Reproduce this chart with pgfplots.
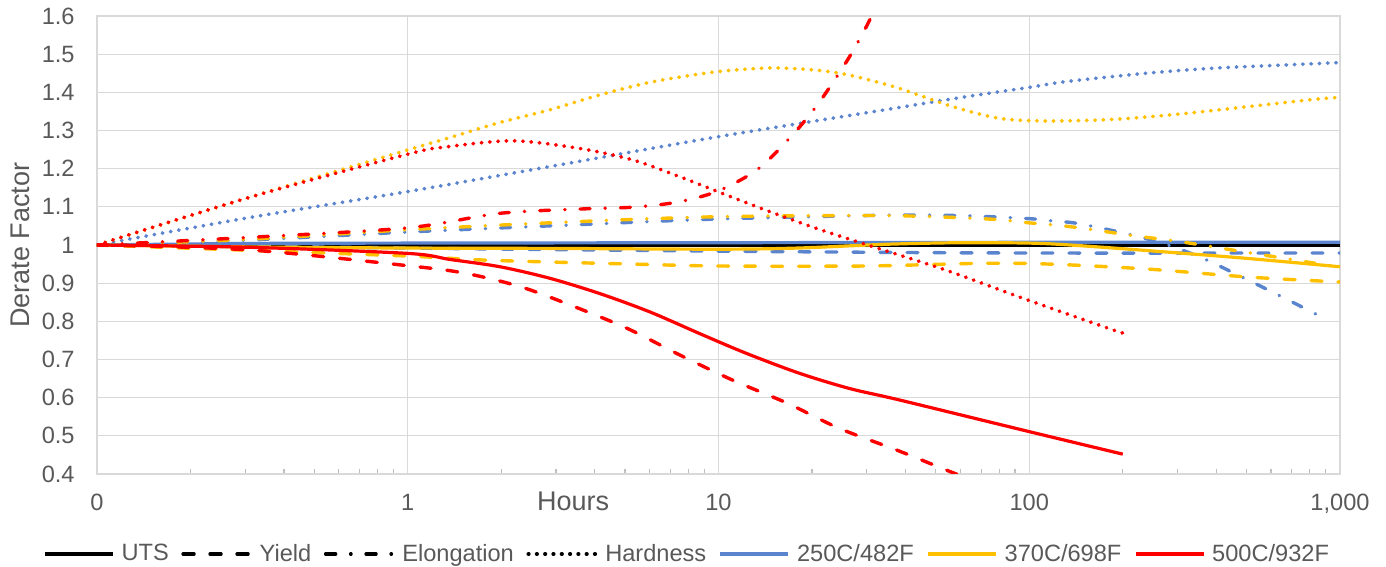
\documentclass[border=0pt]{standalone}
\usepackage{fontspec}
\setmainfont{Liberation Sans}
\usepackage{pgfplots}
\pgfplotsset{compat=1.18}
\definecolor{cblue}{HTML}{5B84CF}
\definecolor{cgold}{HTML}{FFC000}
\definecolor{cred}{HTML}{FF0000}
\definecolor{txt}{HTML}{595959}
\definecolor{grd}{HTML}{D9D9D9}
\definecolor{tck}{HTML}{BFBFBF}
\tikzset{
 solidln/.style={line width=1.6pt, line join=round},
 dashedln/.style={line width=1.7pt, line cap=round, dash pattern=on 5.5pt off 8pt},
 dashdotln/.style={line width=1.7pt, line cap=round, dash pattern=on 5pt off 7.5pt on 0.2pt off 7.5pt},
 dottedln/.style={line width=1.9pt, line cap=round, dash pattern=on 0.2pt off 3.95pt},
}
\begin{document}
\begin{tikzpicture}
\useasboundingbox (-48.5pt,-46.5pt) rectangle (644.5pt,237pt);
\begin{axis}[
 scale only axis, width=621.5pt, height=229pt,
 xmode=log, log basis x=10,
 xmin=0.1, xmax=1000, ymin=0.4, ymax=1.6,
 xtick={0.1,1,10,100,1000}, xticklabels={0,1,10,100,{1,000}},
 minor xtick={0.2,0.3,0.4,0.5,0.6,0.7,0.8,0.9,2,3,4,5,6,7,8,9,20,30,40,50,60,70,80,90,200,300,400,500,600,700,800,900},
 ytick={0.4,0.5,0.6,0.7,0.8,0.9,1,1.1,1.2,1.3,1.4,1.5,1.6},
 grid=major, major grid style={grd, line width=0.6pt},
 axis line style={grd, line width=0.6pt},
 tick pos=left, tick align=inside,
 major tick length=0pt, minor tick length=2.5pt,
 minor tick style={tck, line width=0.6pt},
 ticklabel style={font=\fontsize{11.8}{14}\selectfont, text=txt},
 /pgf/number format/assume math mode=true,
 xticklabel style={anchor=base, yshift=-18.3pt},
 yticklabel style={anchor=east, inner sep=0pt, xshift=-11pt},
 xlabel={Hours}, ylabel={Derate Factor},
 label style={font=\fontsize{13.5}{16}\selectfont, text=txt},
 xlabel style={at={(axis description cs:0.383,0)}, anchor=base, yshift=-18.5pt},
 ylabel style={at={(axis description cs:-0.062,0.5)}, anchor=center},
 legend style={at={(axis description cs:0.474,-0.1747)}, anchor=center, draw=none, fill=none,
   legend columns=7, font=\fontsize{11.8}{14}\selectfont, text=txt, nodes={inner sep=0pt},
   /tikz/every odd column/.append style={column sep=3.5pt},
   /tikz/every even column/.append style={column sep=6.3pt}},
 legend cell align=left,
 legend image code/.code={\draw[#1] (0pt,0pt) -- (34pt,0pt);},
]
\addlegendimage{black, solidln}\addlegendentry{UTS}
\addlegendimage{black, dashedln}\addlegendentry{Yield}
\addlegendimage{black, dashdotln}\addlegendentry{Elongation}
\addlegendimage{black, dottedln}\addlegendentry{Hardness}
\addlegendimage{cblue, solidln}\addlegendentry{250C/482F}
\addlegendimage{cgold, solidln}\addlegendentry{370C/698F}
\addlegendimage{cred, solidln}\addlegendentry{500C/932F}

% reference line
\addplot[black, line width=1.6pt, forget plot] coordinates {(0.1,1) (1000,1)};

% 250C
\addplot[cblue, solidln, smooth, forget plot] coordinates {(0.1,1.0) (0.3,1.004) (1,1.005) (10,1.006) (100,1.007) (1000,1.007)};
\addplot[cblue, dashedln, smooth, forget plot] coordinates {(0.1,1.0) (0.31,0.997) (1,0.992) (3,0.988) (10,0.984) (30,0.981) (100,0.979) (1000,0.979)};
\addplot[cblue, dashdotln, smooth, forget plot] coordinates {(0.1,1.0) (0.31,1.013) (1,1.034) (3.24,1.052) (9.86,1.068) (34.7,1.078) (60,1.077) (100,1.069) (118.6,1.063) (141.6,1.057) (194.6,1.034) (267.7,1.005) (359.9,0.966) (484,0.916) (651,0.864) (875,0.811) (908,0.805)};
\addplot[cblue, dottedln, smooth, forget plot] coordinates {(0.1,1.0) (0.31,1.072) (1,1.14) (3.08,1.21) (9.86,1.283) (33,1.352) (60.9,1.387) (100,1.413) (131,1.428) (238,1.45) (387,1.463) (637,1.471) (1000,1.478)};

% 370C
\addplot[cgold, solidln, smooth, forget plot] coordinates {(0.1,1.0) (0.31,0.995) (1,0.992) (3,0.991) (10,0.989) (18,0.992) (35,1.002) (60,1.006) (100,1.005) (135,1.0) (226,0.987) (484,0.966) (1000,0.943)};
\addplot[cgold, dashedln, smooth, forget plot] coordinates {(0.1,1.0) (0.31,0.986) (1,0.971) (1.7,0.961) (3,0.955) (5.3,0.95) (10,0.945) (30,0.945) (70,0.952) (116,0.95) (240,0.937) (508,0.916) (1000,0.903)};
\addplot[cgold, dashdotln, smooth, forget plot] coordinates {(0.1,1.0) (0.31,1.015) (1,1.040) (3.24,1.06) (9.86,1.074) (34.7,1.077) (74,1.068) (100,1.058) (122,1.052) (148,1.044) (210,1.026) (310,1.008) (449,0.987) (651,0.966) (942,0.945) (1000,0.942)};
\addplot[cgold, dottedln, smooth, forget plot] coordinates {(0.1,1.0) (0.31,1.125) (1,1.249) (1.4,1.284) (1.98,1.321) (2.86,1.354) (4.14,1.393) (6.0,1.426) (8.69,1.448) (11.1,1.458) (15.1,1.464) (20.7,1.458) (26.4,1.445) (37.3,1.413) (56,1.364) (80.1,1.332) (113,1.325) (185,1.329) (303,1.343) (499,1.362) (813,1.381) (1000,1.387)};

% 500C
\addplot[cred, solidln, smooth, forget plot] coordinates {(0.1,1.0) (0.31,0.994) (1,0.978) (1.37,0.962) (1.98,0.943) (2.86,0.913) (4.14,0.873) (6.0,0.825) (8.69,0.768) (12.3,0.716) (18.2,0.664) (26.4,0.624) (38.2,0.594) (100,0.511) (200,0.452)};
\addplot[cred, dashedln, smooth, forget plot] coordinates {(0.1,1.0) (0.31,0.987) (1.02,0.945) (1.53,0.926) (2.3,0.891) (3.4,0.84) (5.1,0.781) (7.5,0.712) (11.1,0.646) (16.7,0.585) (24.4,0.52) (38.2,0.46) (59.5,0.397) (80,0.36)};
\addplot[cred, dashdotln, smooth, forget plot] coordinates {(0.1,1.0) (0.31,1.02) (1,1.045) (1.98,1.083) (3.79,1.095) (5.29,1.099) (7.33,1.112) (9.86,1.14) (13.25,1.196) (16.9,1.279) (20.8,1.367) (25.8,1.48) (29.5,1.563) (32,1.62)};
\addplot[cred, dottedln, smooth, forget plot] coordinates {(0.1,1.0) (0.31,1.125) (1,1.238) (1.33,1.257) (2.18,1.273) (3.57,1.253) (5.29,1.223) (7.5,1.179) (10.6,1.131) (14.9,1.085) (21.1,1.041) (31.3,0.996) (54,0.934) (95,0.861) (190,0.775) (200,0.772)};
\end{axis}
\end{tikzpicture}
\end{document}
